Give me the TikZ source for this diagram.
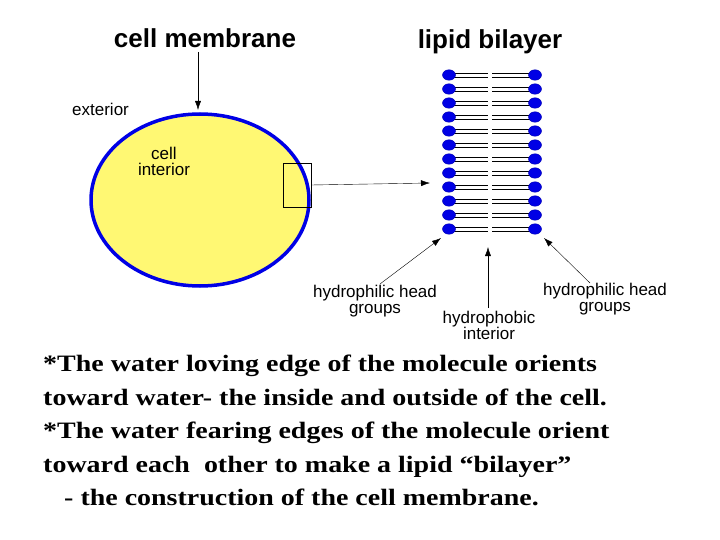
\documentclass[tikz,border=0pt]{standalone}
\usepackage{fontspec}
\setmainfont{Liberation Serif}
\newfontfamily\arial{Liberation Sans}
\usetikzlibrary{arrows.meta,shapes.geometric}
\begin{document}
\begin{tikzpicture}[x=1pt,y=-1pt,
  lbl/.style={font=\arial\fontsize{17}{16}\selectfont, align=center, inner sep=0},
  ttl/.style={font=\arial\bfseries\fontsize{26}{28}\selectfont, inner sep=0},
  arr/.style={-{Latex[length=9pt,width=6pt]}, thin},
  head/.style={fill=blue!90!black, draw=blue!70!black, ellipse, minimum width=13pt, minimum height=10.5pt, inner sep=0}]
\useasboundingbox (0,0) rectangle (720,540);
\node[ttl] (t1) at (205,38) {cell membrane};
\node[ttl] (t2) at (490,42) {lipid bilayer};
\draw[blue!90!black, line width=3.5pt, fill=yellow!55] (200,200) ellipse (109 and 86);
\node[lbl, anchor=west] (ext) at (72,109) {exterior};
\node[lbl] (ci) at (164,161) {cell\\interior};
\node[draw, thin, minimum width=28pt, minimum height=44pt, inner sep=0] (box) at (297,185) {};
\coordinate (cm) at (198,52);
\coordinate (cmt) at (198,110);
\draw[arr] (cm) -- (cmt);
\coordinate (bt) at (430,183);
\draw[arr] (box.east) -- (bt);
\foreach \i in {0,...,11}{
  \pgfmathsetmacro\yy{75+14*\i}
  \draw (449,\yy-2) -- (488,\yy-2) (449,\yy+2) -- (488,\yy+2);
  \draw (492,\yy-2) -- (535,\yy-2) (492,\yy+2) -- (535,\yy+2);
  \node[head] (l\i) at (449,\yy) {};
  \node[head] (r\i) at (535,\yy) {};
}
\node[lbl] (hh1) at (375,301) {hydrophilic head\\groups};
\node[lbl] (hi) at (489,325) {hydrophobic\\interior};
\node[lbl] (hh2) at (605,299) {hydrophilic head\\groups};
\coordinate (a1s) at (380,284); \coordinate (a1e) at (441,238);
\coordinate (a2s) at (488,308); \coordinate (a2e) at (488,247);
\coordinate (a3s) at (590,283); \coordinate (a3e) at (544,238);
\draw[arr] (a1s) -- (a1e);
\draw[arr] (a2s) -- (a2e);
\draw[arr] (a3s) -- (a3e);
\node[anchor=north west, align=left, inner sep=0, xscale=1.19, font=\bfseries\fontsize{23.5}{33.5}\selectfont] (txt) at (43,355)
{*The water loving edge of the molecule orients\\
toward water- the inside and outside of the cell.\\
*The water fearing edges of the molecule orient\\
toward each\ \ other to make a lipid “bilayer”\\
\ \ \ - the construction of the cell membrane.};
\end{tikzpicture}
\end{document}
